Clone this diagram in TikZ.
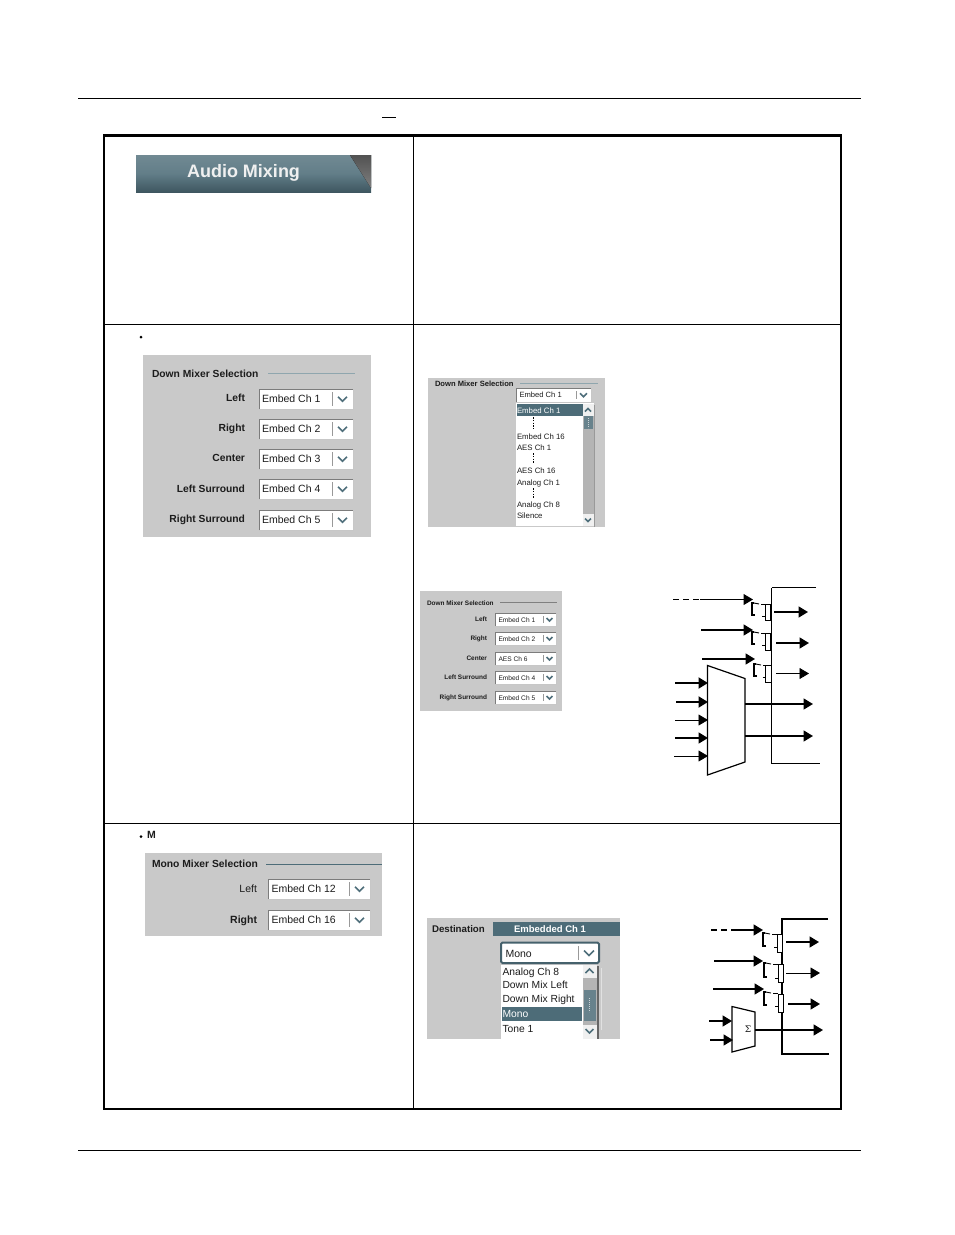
\documentclass[tikz,border=0pt]{standalone}
\usepackage{fontspec}
\setmainfont{Liberation Sans}
\usetikzlibrary{arrows.meta}
\definecolor{panelgrey}{HTML}{C9C9C9}
\definecolor{tealsel}{HTML}{4D6C78}
\definecolor{titleline}{HTML}{8FA6AE}
\definecolor{combob}{HTML}{7C7C7C}
\definecolor{chev}{HTML}{4F6F7B}
\definecolor{txt}{HTML}{1C1C1C}
\definecolor{track}{HTML}{B4B4B4}
\tikzset{
  x=1pt,y=-1pt,
  rule/.style={draw=black,line width=1pt},
  tbl/.style={draw=black,line width=1pt},
  tblo/.style={draw=black,line width=2pt},
  panel/.style={fill=panelgrey,draw=none},
  inarrow/.style={-{Triangle[length=9.5pt,width=11pt]},draw=black},
  wire/.style={draw=black,line width=1pt},
  lab/.style={inner sep=0pt,outer sep=0pt,text=txt},
  boxn/.style={rectangle,inner sep=0pt,outer sep=0pt,anchor=north west},
}
\newcount\tcnt
\newcommand{\fs}[1]{\fontsize{#1}{#1}\selectfont}
% text: size, anchor, x, y, text
\newcommand{\txtn}[5]{\global\advance\tcnt by 1
  \node[lab,anchor=#2,name=t\the\tcnt] at ({#3},{#4+1}) {\fs{#1}\vphantom{Ag}#5};}
\newcommand{\btxt}[5]{\txtn{#1}{#2}{#3}{#4}{\bfseries #5}}
% rectangle node: name, x1,y1,x2,y2, style
\newcommand{\rectn}[6]{\node[boxn,name=#1,minimum width={(#4-(#2))*1pt},minimum height={(#5-(#3))*1pt},#6] at (#2,#3) {};}
% chevrons at cx, cy, half-width
\newcommand{\chevron}[3]{\draw[draw=chev,line width=1.5pt] ({#1-#3},{#2-#3*0.5}) -- ({#1},{#2+#3*0.5}) -- ({#1+#3},{#2-#3*0.5});}
\newcommand{\chevup}[3]{\draw[draw=chev,line width=1.5pt] ({#1-#3},{#2+#3*0.5}) -- ({#1},{#2-#3*0.5}) -- ({#1+#3},{#2+#3*0.5});}
% combo: name,x1,y1,x2,y2,divx,text,size,chevw
\newcommand{\combo}[9]{\rectn{#1}{#2}{#3}{#4}{#5}{fill=white,draw=black!22,line width=.7pt}
  \draw[draw=combob,line width=.8pt] (#2,#5) -- (#2,#3) -- (#4,#3);
  \draw[draw=black!40,line width=.5pt] (#6,{#3+3}) -- (#6,{#5-3});
  \chevron{(#6+#4)/2}{(#3+#5)/2}{#9}
  \txtn{#8}{west}{#2+3}{(#3+#5)/2}{#7}}
% arrow: name,x1,y1,x2,y2,width
\newcommand{\arrn}[6]{\coordinate (#1a) at (#2,#3); \coordinate (#1b) at (#4,#5);
  \draw[inarrow,line width=#6pt] (#1a) -- (#1b);}
% switch: name, bracket x, by1, by2, rect x1, ry1, ry2
\newcommand{\sw}[7]{\rectn{#1}{#5}{#6}{#5+5.5}{#7}{draw=black,line width=.8pt,fill=white}
  \draw[line width=1.4pt] ({#2+3},#4) -- (#2,#4) -- (#2,#3) -- ({#2+2},#3);
  \draw[line width=.9pt] ({#2+2},#3) -- ({#2+7},{#3+1});
  \draw[line width=.9pt] ({#2+9},{#3+1}) -- (#5,{#3+1});
  \draw[line width=.9pt] ({#5-3},{#4+1}) -- (#5,{#4+1});}
\begin{document}
\begin{tikzpicture}
\useasboundingbox[fill=white] (0,0) rectangle (954,1235);
% page rules
\coordinate (ruleTL) at (78,98.5); \coordinate (ruleTR) at (861,98.5);
\coordinate (ruleBL) at (78,1150); \coordinate (ruleBR) at (861,1150);
\draw[rule] (ruleTL) -- (ruleTR);
\draw[rule] (ruleBL) -- (ruleBR);
\coordinate (dashL) at (382,117); \coordinate (dashR) at (396,117);
\draw[line width=1pt] (dashL) -- (dashR);
% table
\coordinate (divT) at (413.5,136); \coordinate (divB) at (413.5,1109);
\coordinate (r1L) at (104,324); \coordinate (r1R) at (841,324);
\coordinate (r2L) at (104,823.5); \coordinate (r2R) at (841,823.5);
\draw[tbl] (divT) -- (divB);
\draw[tbl] (r1L) -- (r1R);
\draw[tbl] (r2L) -- (r2R);
\draw[tblo] (104,136) rectangle (841,1109);
\draw[line width=3pt] (103,135.5) -- (842,135.5);
% banner
\rectn{banner}{136}{155}{371}{192}{top color=tealsel!80!white,bottom color=tealsel!80!black,middle color=tealsel!88!white}
\fill[top color=black!68,bottom color=black!50] (350,155) -- (371,155) -- (371,188) -- cycle;
\node[lab,name=bannertext,anchor=center,text=white!94!black] at (243.5,173) {\fs{18}\bfseries Audio Mixing};
% row 2 left
\fill (141,337) circle (1.5);
\rectn{pDown}{143}{355}{371}{537}{panel}
\btxt{10.3}{west}{152}{374}{Down Mixer Selection}
\coordinate (pDownLa) at (268,373.5); \coordinate (pDownLb) at (355,373.5);
\draw[titleline,line width=.6pt] (pDownLa) -- (pDownLb);
\btxt{10.3}{east}{245}{398}{Left}
\btxt{10.3}{east}{245}{428}{Right}
\btxt{10.3}{east}{245}{458}{Center}
\btxt{10.3}{east}{245}{489}{Left Surround}
\btxt{10.3}{east}{245}{519}{Right Surround}
\combo{cA}{259}{389}{353}{409}{332}{Embed Ch 1}{10.5}{4.5}
\combo{cB}{259}{419}{353}{439}{332}{Embed Ch 2}{10.5}{4.5}
\combo{cC}{259}{449}{353}{469}{332}{Embed Ch 3}{10.5}{4.5}
\combo{cD}{259}{479}{353}{499}{332}{Embed Ch 4}{10.5}{4.5}
\combo{cE}{259}{510}{353}{530}{332}{Embed Ch 5}{10.5}{4.5}
% row 2 right, list panel
\rectn{pList}{428}{378}{605}{527}{panel}
\btxt{7.6}{west}{435}{384}{Down Mixer Selection}
\coordinate (pListLa) at (520,383); \coordinate (pListLb) at (598,383);
\draw[titleline,line width=.5pt] (pListLa) -- (pListLb);
\combo{cL}{516.5}{388}{591}{402}{576}{Embed Ch 1}{7.6}{3.5}
\fill[black!40] (593.5,405) rectangle (595,527);
\rectn{lstA}{516}{403}{594}{526}{fill=white}
\rectn{lstSel}{516.5}{404}{583}{416}{fill=tealsel}
\node[lab,name=lstSelT,anchor=west,text=white] at (517,411) {\fs{7.8}\vphantom{Ag}Embed Ch 1};
\rectn{lstTrack}{583}{404}{594}{526}{fill=track}
\rectn{lstBtnT}{583}{404}{594}{416}{fill=white!80!track}
\rectn{lstBtnB}{583}{514}{594}{526}{fill=white!80!track}
\rectn{lstThumb}{584}{416}{592.5}{429}{fill=tealsel!85!white}
\draw[white!70!tealsel,line width=1pt,dash pattern=on .8pt off 1.2pt] (588,418) -- (588,428);
\chevup{588}{410}{3}
\chevron{588}{520}{3}
\draw[line width=.9pt,dash pattern=on 1.5pt off 1.3pt] (533,417) -- (533,429);
\draw[line width=.9pt,dash pattern=on 1.5pt off 1.3pt] (533,453) -- (533,464);
\draw[line width=.9pt,dash pattern=on 1.5pt off 1.3pt] (533,488) -- (533,499);
\txtn{7.8}{west}{517}{436}{Embed Ch 16}
\txtn{7.8}{west}{517}{447.5}{AES Ch 1}
\txtn{7.8}{west}{517}{470}{AES Ch 16}
\txtn{7.8}{west}{517}{482}{Analog Ch 1}
\txtn{7.8}{west}{517}{504}{Analog Ch 8}
\txtn{7.8}{west}{517}{515}{Silence}
% small down mixer
\rectn{pSmall}{420}{591}{562}{711}{panel}
\btxt{6.45}{west}{427}{603}{Down Mixer Selection}
\coordinate (pSmallLa) at (500,602); \coordinate (pSmallLb) at (557,602);
\draw[black!50,line width=.5pt] (pSmallLa) -- (pSmallLb);
\btxt{6.45}{east}{487}{619}{Left}
\btxt{6.45}{east}{487}{638}{Right}
\btxt{6.45}{east}{487}{657.5}{Center}
\btxt{6.45}{east}{487}{677}{Left Surround}
\btxt{6.45}{east}{487}{696.5}{Right Surround}
\combo{sA}{495.5}{613}{556}{626}{543}{Embed Ch 1}{6.6}{3}
\combo{sB}{495.5}{632}{556}{645}{543}{Embed Ch 2}{6.6}{3}
\combo{sC}{495.5}{652}{556}{665}{543}{AES Ch 6}{6.6}{3}
\combo{sD}{495.5}{671}{556}{684}{543}{Embed Ch 4}{6.6}{3}
\combo{sE}{495.5}{691}{556}{704}{543}{Embed Ch 5}{6.6}{3}
% schematic 1
\coordinate (o1a) at (816,587.5); \coordinate (o1b) at (771.5,587.5);
\coordinate (o1c) at (771.5,763); \coordinate (o1d) at (820,763);
\draw[wire] (o1b) -- (o1c) -- (o1d);
\draw[line width=1.6pt] (o1a) -- (o1b);
\draw[line width=1pt,dash pattern=on 6pt off 4pt] (673,599.5) -- (700,599.5);
\arrn{ia}{700}{599.5}{753}{599.5}{1}
\arrn{ib}{701}{630}{753}{630}{1.7}
\arrn{ic}{702}{659}{755}{659}{1.7}
\sw{sa}{752}{603}{615}{765}{604}{620.5}
\sw{sb}{752}{632}{644}{765}{633}{650}
\sw{sc}{754}{664}{676}{765.5}{665}{682}
\arrn{oa}{774}{612}{808}{612}{1.7}
\arrn{ob}{776}{643}{809}{643}{1.7}
\arrn{oc}{776}{673.5}{809}{673.5}{.8}
\draw[line width=1.2pt,fill=white] (707.5,665.5) -- (745,678.5) -- (745,762) -- (707.5,775) -- cycle;
\arrn{od}{745}{704}{813}{704}{1.7}
\arrn{oe}{745}{736}{813}{736}{1.7}
\arrn{ma}{675}{683}{708}{683}{2}
\arrn{mb}{676}{702}{708}{702}{2}
\arrn{mc}{675}{720}{708}{720}{.8}
\arrn{md}{675}{738}{708}{738}{1.7}
\arrn{me}{674}{756}{708}{756}{.8}
% row 3 left
\fill (141,836.5) circle (1.5);
\btxt{10.5}{west}{147}{835}{M}
\rectn{pMono}{145}{853}{382}{936}{panel}
\btxt{10.3}{west}{152}{864}{Mono Mixer Selection}
\coordinate (pMonoLa) at (266,864); \coordinate (pMonoLb) at (382,864);
\draw[tealsel,line width=.6pt] (pMonoLa) -- (pMonoLb);
\txtn{10.5}{east}{257}{889}{Left}
\txtn{10.5}{east}{257}{920}{\bfseries Right}
\combo{cF}{268.5}{879}{370}{899}{349}{Embed Ch 12}{10.5}{4.5}
\combo{cG}{268.5}{910}{370}{930}{349}{Embed Ch 16}{10.5}{4.5}
% destination panel
\rectn{pDest}{427}{918}{620}{1039}{panel}
\btxt{9.7}{west}{432}{929}{Destination}
\rectn{dHead}{493}{921.5}{620}{936}{fill=tealsel}
\node[lab,name=dHeadT,anchor=center,text=white] at (550,930) {\fs{9.5}\bfseries\vphantom{Ag}Embedded Ch 1};
\draw[white!45!panelgrey,line width=.7pt] (601,968) -- (601,1030);
\fill[black!60] (597,966) rectangle (598.5,1039);
\rectn{dList}{501}{965}{597}{1039}{fill=white}
\rectn{dSel}{501.5}{1007}{581.5}{1021}{fill=tealsel}
\rectn{dTrack}{583}{965}{596.5}{1039}{fill=track}
\rectn{dBtnT}{583}{965}{596.5}{978}{fill=white!80!track}
\rectn{dBtnB}{583}{1025}{596.5}{1039}{fill=white!80!track}
\rectn{dThumb}{583.5}{990}{596}{1021}{fill=tealsel!85!white}
\draw[white!70!tealsel,line width=1pt,dash pattern=on .8pt off 1.2pt] (589.7,998) -- (589.7,1012);
\chevup{589.5}{971}{4}
\chevron{589.5}{1031}{4}
\txtn{10.3}{west}{502.5}{972}{Analog Ch 8}
\txtn{10.3}{west}{502.5}{985}{Down Mix Left}
\txtn{10.3}{west}{502.5}{999}{Down Mix Right}
\node[lab,name=dSelT,anchor=west,text=white] at (502.5,1015) {\fs{10.3}\vphantom{Ag}Mono};
\txtn{10.3}{west}{502.5}{1029}{Tone 1}
\rectn{dCombo}{501}{942.5}{599}{963}{fill=white,draw=tealsel!90!black,line width=2pt,rounded corners=1.5pt}
\draw[draw=black!40,line width=.5pt] (578.5,946) -- (578.5,960);
\chevron{589}{953}{5}
\txtn{10.5}{west}{505.5}{953.5}{Mono}
% schematic 2
\coordinate (o2a) at (828,919); \coordinate (o2b) at (782,919);
\coordinate (o2c) at (782,1054); \coordinate (o2d) at (829,1054);
\draw[line width=1.2pt] (o2a) -- (o2b) -- (o2c) -- (o2d);
\draw[line width=1.7pt,dash pattern=on 6pt off 4pt] (711,930) -- (733,930);
\arrn{ja}{733}{930}{763}{930}{1.7}
\arrn{jb}{714}{961}{763}{961}{1.7}
\arrn{jc}{713}{989}{764}{989}{1.7}
\sw{ta}{763}{933}{946}{777}{934}{952}
\sw{tb}{764}{963}{977}{778}{964}{982}
\sw{tc}{764}{992}{1005}{778}{994}{1012}
\arrn{pa}{786}{942}{819}{942}{1.7}
\arrn{pb}{786}{973}{820}{973}{.8}
\arrn{pc}{788}{1004}{820}{1004}{1.7}
\draw[line width=1.2pt,fill=white] (732,1006.5) -- (755,1012) -- (755,1046) -- (732,1052) -- cycle;
\node[lab,name=sigma,anchor=center] at (748,1029) {\fs{9}\fontspec{DejaVu Serif}Σ};
\arrn{pd}{755}{1030}{823}{1030}{1.7}
\arrn{qa}{709}{1021}{732}{1021}{1.7}
\arrn{qb}{710}{1040}{733}{1040}{1.7}
\end{tikzpicture}
\end{document}
